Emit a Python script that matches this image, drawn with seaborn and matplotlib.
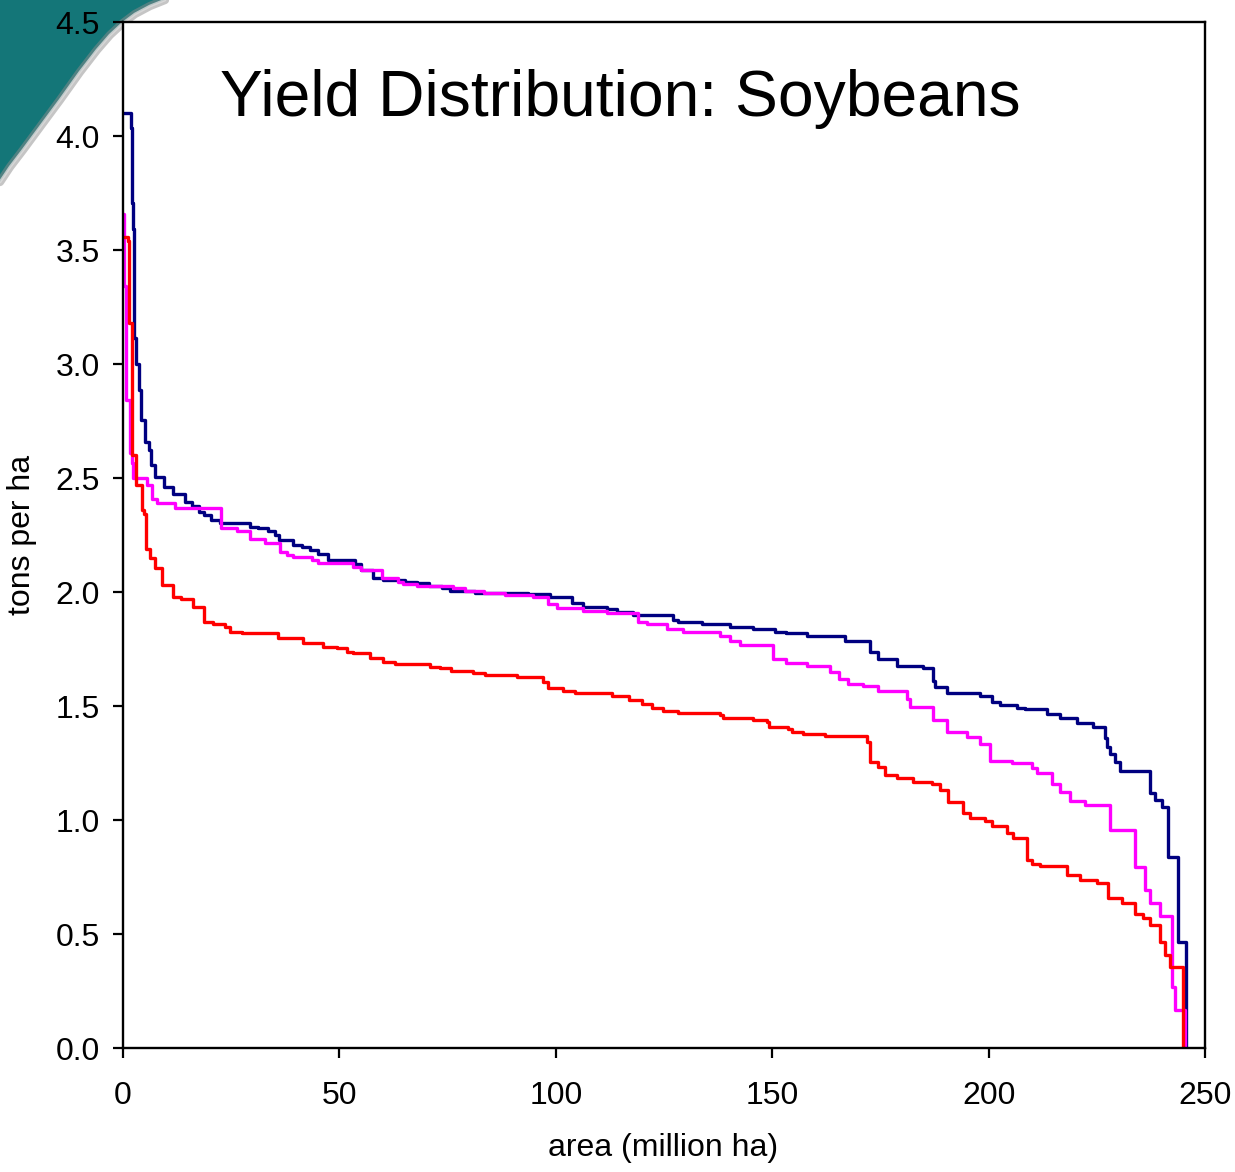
import numpy as np
import pandas as pd
import matplotlib
matplotlib.use("Agg")
import matplotlib.pyplot as plt
from matplotlib.patches import Polygon
import seaborn as sns

# ---------------- data (step curves: area start [million ha], yield [t/ha]) ----------------
blue_area = [0, 1.8, 2.1, 2.3, 2.6, 3.1, 3.6, 4.1, 5.0, 5.9, 6.4, 7.4, 9.4, 11.6, 14.3, 16.0,
             17.6, 18.8, 20.4, 22.4, 29.3, 31.2, 33.5, 35.1, 36.0, 39.3, 41.3, 43.2, 45.0,
             47.4, 53.5, 55.1, 57.8, 60.0, 65.2, 67.9, 70.6, 73.6, 75.6, 81.3, 93.6, 98.7,
             103.7, 106.4, 111.8, 114.1, 117.9, 127.0, 128.3, 133.7, 140.2, 145.6, 150.6,
             153.3, 158.0, 166.8, 172.6, 174.5, 178.8, 184.8, 187.2, 187.6, 190.4, 198.0,
             200.8, 202.6, 206.6, 208.4, 213.5, 216.5, 220.4, 224.1, 226.9, 227.3, 228.0,
             229.2, 230.4, 237.3, 238.5, 240.0, 241.4, 243.8, 245.5]
blue_yield = [4.10, 4.035, 3.706, 3.59, 3.114, 3.0, 2.886, 2.754, 2.66, 2.623, 2.557, 2.506,
              2.462, 2.43, 2.396, 2.377, 2.352, 2.338, 2.316, 2.301, 2.287, 2.279, 2.269,
              2.25, 2.228, 2.206, 2.196, 2.184, 2.165, 2.14, 2.125, 2.096, 2.06, 2.053,
              2.045, 2.038, 2.028, 2.016, 2.006, 1.997, 1.99, 1.977, 1.95, 1.936, 1.925,
              1.914, 1.898, 1.877, 1.867, 1.858, 1.848, 1.836, 1.826, 1.819, 1.807, 1.786,
              1.738, 1.706, 1.677, 1.667, 1.61, 1.583, 1.557, 1.544, 1.517, 1.504, 1.49,
              1.487, 1.465, 1.447, 1.427, 1.408, 1.36, 1.32, 1.289, 1.254, 1.216, 1.12,
              1.088, 1.058, 0.839, 0.466, 0.0]

magenta_area = [0, 0.3, 0.8, 1.6, 2.0, 2.4, 5.5, 6.7, 7.8, 12.0, 22.6, 26.3, 29.3, 32.8,
                36.3, 37.8, 39.3, 43.6, 45.0, 53.2, 55.1, 59.8, 63.5, 64.7, 67.9, 76.3,
                79.0, 83.3, 88.3, 94.8, 98.3, 100.2, 106.4, 111.8, 119.1, 121.0, 125.6,
                129.5, 137.9, 140.2, 142.6, 150.3, 153.3, 158.0, 163.4, 165.5, 167.6,
                171.0, 174.5, 181.1, 181.8, 187.2, 190.4, 195.0, 198.0, 200.3, 205.4,
                210.0, 211.2, 214.6, 216.5, 218.8, 222.3, 228.0, 233.8, 236.1, 237.3,
                239.6, 242.4, 243.1, 245.3]
magenta_yield = [3.66, 3.34, 2.84, 2.61, 2.565, 2.50, 2.469, 2.406, 2.389, 2.367, 2.279,
                 2.269, 2.232, 2.214, 2.177, 2.162, 2.155, 2.14, 2.126, 2.111, 2.096, 2.06,
                 2.045, 2.036, 2.026, 2.016, 2.006, 1.997, 1.987, 1.977, 1.946, 1.928,
                 1.918, 1.906, 1.87, 1.858, 1.836, 1.826, 1.807, 1.786, 1.768, 1.706,
                 1.687, 1.677, 1.65, 1.618, 1.596, 1.588, 1.567, 1.53, 1.497, 1.439,
                 1.386, 1.365, 1.333, 1.259, 1.25, 1.227, 1.207, 1.16, 1.124, 1.085,
                 1.066, 0.956, 0.795, 0.693, 0.636, 0.579, 0.269, 0.167, 0.0]

red_area = [0, 1.1, 1.5, 2.0, 3.0, 4.3, 4.9, 5.3, 6.2, 7.4, 8.9, 11.6, 13.5, 16.2, 18.6,
            20.8, 23.6, 24.7, 27.4, 35.9, 41.6, 46.3, 49.4, 51.7, 53.2, 57.0, 60.0, 62.8,
            70.9, 73.2, 75.9, 80.9, 83.6, 91.0, 97.1, 98.2, 101.7, 104.4, 112.9, 116.8,
            119.9, 122.2, 124.8, 128.3, 137.9, 138.6, 145.6, 148.7, 149.2, 153.7, 154.5,
            157.2, 162.2, 171.8, 172.6, 174.4, 176.1, 178.8, 182.5, 186.9, 188.8, 190.6,
            194.1, 195.7, 199.2, 200.8, 204.3, 205.6, 208.9, 210.0, 211.9, 218.1, 221.1,
            225.0, 227.6, 230.8, 233.8, 235.7, 237.3, 239.6, 240.7, 241.9, 245.0]
red_yield = [3.558, 3.54, 3.178, 2.60, 2.469, 2.36, 2.34, 2.19, 2.148, 2.104, 2.031, 1.98,
             1.968, 1.936, 1.87, 1.86, 1.848, 1.826, 1.819, 1.797, 1.778, 1.76, 1.753,
             1.738, 1.731, 1.709, 1.694, 1.684, 1.672, 1.665, 1.655, 1.646, 1.636, 1.626,
             1.607, 1.578, 1.566, 1.556, 1.545, 1.526, 1.507, 1.49, 1.478, 1.468, 1.46,
             1.449, 1.439, 1.43, 1.409, 1.40, 1.385, 1.377, 1.368, 1.34, 1.256, 1.234,
             1.197, 1.186, 1.168, 1.158, 1.132, 1.078, 1.03, 1.008, 0.997, 0.975, 0.943,
             0.921, 0.825, 0.807, 0.798, 0.759, 0.737, 0.725, 0.657, 0.635, 0.588, 0.57,
             0.539, 0.466, 0.408, 0.357, 0.0]

series_names = ["blue", "magenta", "red"]
series_colors = ["#000080", "#FF00FF", "#FF0000"]
x_ticks = [0, 50, 100, 150, 200, 250]
y_ticks = [0.0, 0.5, 1.0, 1.5, 2.0, 2.5, 3.0, 3.5, 4.0, 4.5]
title_text = "Yield Distribution: Soybeans"
x_label = "area (million ha)"
y_label = "tons per ha"

frames = []
for name, a, y in zip(series_names,
                      [blue_area, magenta_area, red_area],
                      [blue_yield, magenta_yield, red_yield]):
    frames.append(pd.DataFrame({"area": a, "yield": y, "series": name}))
df = pd.concat(frames, ignore_index=True)

# ---------------- figure ----------------
sns.set_style("white")
plt.rcParams["font.family"] = ["Liberation Sans", "DejaVu Sans"]
plt.rcParams["text.color"] = "black"
plt.rcParams["axes.labelcolor"] = "black"
plt.rcParams["xtick.color"] = "black"
plt.rcParams["ytick.color"] = "black"

W, H = 1235, 1172
fig = plt.figure(figsize=(W / 100, H / 100), dpi=100)
fig.patch.set_facecolor("white")

# decorative teal swoosh in the top-left corner
def px(x, y):
    return (x / W, 1 - y / H)

edge_pts = [(165, 0), (150, 6), (135, 14), (123, 23), (110, 35), (97, 50), (80, 72),
            (60, 100), (40, 127), (23, 150), (10, 167), (0, 182)]
fig.patches.append(Polygon([px(0, 0)] + [px(*p) for p in edge_pts], closed=True,
                           transform=fig.transFigure, facecolor="#147678",
                           edgecolor="none", zorder=-3))
ex, ey = zip(*[px(*p) for p in edge_pts])
fig.lines.append(plt.Line2D(ex, ey, transform=fig.transFigure, color="#8c8c8c",
                            linewidth=6, alpha=0.5, zorder=-2))
fig.lines.append(plt.Line2D(ex, ey, transform=fig.transFigure, color="#dcdcdc",
                            linewidth=2, alpha=0.8, zorder=-1))

ax = fig.add_axes([123 / W, 1 - 1048 / H, (1205 - 123) / W, (1048 - 22) / H])
ax.set_facecolor("white")
ax.set_zorder(1)

sns.lineplot(data=df, x="area", y="yield", hue="series", hue_order=series_names,
             palette=dict(zip(series_names, series_colors)), units="series",
             estimator=None, sort=False, drawstyle="steps-post", linewidth=2.4,
             legend=False, ax=ax)

ax.set_xlim(0, 250)
ax.set_ylim(0, 4.5)
ax.set_xticks(x_ticks)
ax.set_xticklabels([str(t) for t in x_ticks])
ax.set_yticks(y_ticks)
ax.set_yticklabels([f"{t:.1f}" for t in y_ticks])
ax.set_xlabel("")
ax.set_ylabel("")

for s in ax.spines.values():
    s.set_visible(True)
    s.set_color("black")
    s.set_linewidth(1.7)

ax.tick_params(axis="both", which="both", direction="out", length=7.5, width=1.6,
               colors="black", labelsize=23, bottom=True, left=True, top=False, right=False)
ax.tick_params(axis="y", pad=9)
ax.tick_params(axis="x", pad=16)

fig.text(220 / W, 1 - 116 / H, title_text, fontsize=46.2, ha="left", va="baseline",
         color="black")
fig.text(663 / W, 1 - 1148 / H, x_label, fontsize=23, ha="center", va="center",
         color="black")
fig.text(22 / W, 1 - 535 / H, y_label, fontsize=23, ha="center", va="center",
         rotation=90, color="black")

fig.savefig("out.png", dpi=100, facecolor="white")
